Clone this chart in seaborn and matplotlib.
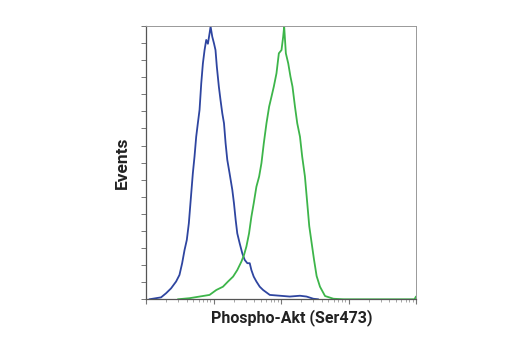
import numpy as np
import pandas as pd
import matplotlib
matplotlib.use("Agg")
import matplotlib.pyplot as plt
from matplotlib.ticker import LogLocator, NullFormatter
import seaborn as sns

# Data (fluorescence intensity, relative events)
blue_x = [1.12, 1.67, 1.98, 2.35, 2.79, 3.13, 3.43, 3.72, 4.02, 4.31, 4.51, 4.72, 4.94, 5.23,
          5.54, 5.86, 6.21, 6.58, 6.96, 7.37, 7.80, 8.26, 8.74, 9.05, 9.58, 10.15, 10.7, 11.2,
          12.0, 12.7, 13.5, 14.3, 15.1, 16.0, 17.3, 19.0, 20.1, 21.3, 22.5, 24.4, 26.7, 29.0,
          31.7, 34.4, 36.4, 39.4, 43.2, 48.4, 54.3, 68.2, 96.1, 135, 191, 239, 301, 357]
blue_y = [0, 0.7, 2.2, 4.0, 6.5, 8.9, 13.2, 18.0, 21.7, 27.8, 33.9, 40.0, 46.1, 52.2,
          59.5, 64.4, 69.3, 79.0, 86.3, 91.2, 94.9, 93.5, 97.3, 99.8, 96.1, 93.7, 91.2, 85.1,
          77.8, 72.9, 68.0, 64.4, 57.1, 51.0, 46.1, 40.0, 35.1, 29.0, 24.1, 20.5, 16.8, 14.4,
          13.2, 13.2, 10.7, 8.3, 6.5, 4.6, 3.4, 1.6, 1.3, 1.0, 1.3, 1.0, 0.2, 0]

green_x = [2.96, 4.41, 6.21, 8.74, 11.0, 13.8, 16.4, 19.5, 22.5, 25.9, 28.3, 30.7, 33.6, 36.4,
           39.4, 43.2, 47.4, 51.3, 55.6, 60.9, 66.7, 72.2, 78.2, 85.7, 92.9, 101.7, 107.7, 111.4,
           118, 128, 138, 148, 161, 174, 191, 206, 226, 245, 262, 284, 308, 337, 378, 449, 597,
           840, 9500, 10000]
green_y = [0, 0.4, 1.0, 1.6, 3.4, 4.6, 6.5, 8.3, 10.7, 13.8, 16.2, 19.3, 24.1, 30.2,
           35.1, 41.2, 44.9, 49.8, 57.1, 64.4, 70.5, 74.1, 77.8, 82.7, 90.0, 91.2, 96.1, 99.8,
           90.0, 86.3, 81.5, 77.8, 70.5, 64.4, 59.5, 52.2, 45.0, 35.1, 26.8, 20.7, 14.6, 8.5, 4.6,
           1.2, 0.2, 0, 0, 1.0]

series_names = ["control", "treated"]
colors = ["#2E45A0", "#3DB54A"]
x_label = "Phospho-Akt (Ser473)"
y_label = "Events"

df = pd.concat([
    pd.DataFrame({"x": blue_x, "y": blue_y, "series": series_names[0]}),
    pd.DataFrame({"x": green_x, "y": green_y, "series": series_names[1]}),
], ignore_index=True)

sns.set_style("white")
plt.rcParams["font.family"] = ["Roboto", "DejaVu Sans"]

fig = plt.figure(figsize=(5.2, 3.5), dpi=100)
ax = fig.add_axes([0.2808, 0.1449, 0.8 - 0.2808, 0.9257 - 0.1449])

sns.lineplot(data=df, x="x", y="y", hue="series", palette=colors, ax=ax,
             linewidth=1.3, legend=False, sort=False, estimator=None)

ax.set_xscale("log")
ax.set_xlim(1, 10000)
ax.set_ylim(0, 100)
ax.set_yticks(np.linspace(0, 100, 17))
ax.set_yticklabels([])
ax.xaxis.set_major_locator(LogLocator(base=10, numticks=10))
ax.xaxis.set_minor_locator(LogLocator(base=10, subs=np.arange(2, 10), numticks=100))
ax.xaxis.set_major_formatter(NullFormatter())
ax.xaxis.set_minor_formatter(NullFormatter())

for side in ["left", "bottom"]:
    ax.spines[side].set_color("#555555")
    ax.spines[side].set_linewidth(0.9)
for side in ["top", "right"]:
    ax.spines[side].set_color("#999999")
    ax.spines[side].set_linewidth(0.7)

ax.tick_params(axis="y", which="major", direction="out", length=3.5, width=0.7,
               color="#777777", left=True)
ax.tick_params(axis="x", which="major", direction="out", length=3.5, width=0.8,
               color="#777777", bottom=True)
ax.tick_params(axis="x", which="minor", direction="out", length=2.2, width=0.6,
               color="#999999", bottom=True)

ax.set_xlabel(x_label, fontsize=11.5, fontweight="bold", color="#222222")
ax.set_ylabel(y_label, fontsize=12.5, fontweight="bold", color="#222222")
ax.xaxis.set_label_coords((292 - 146) / 270.0, -0.037)
ax.xaxis.label.set_va("top")
ax.yaxis.set_label_coords(-(146 - 130) / 270.0, (299.3 - 163) / 273.3)
ax.yaxis.label.set_va("bottom")

fig.savefig("out.png", dpi=100, facecolor="white")
